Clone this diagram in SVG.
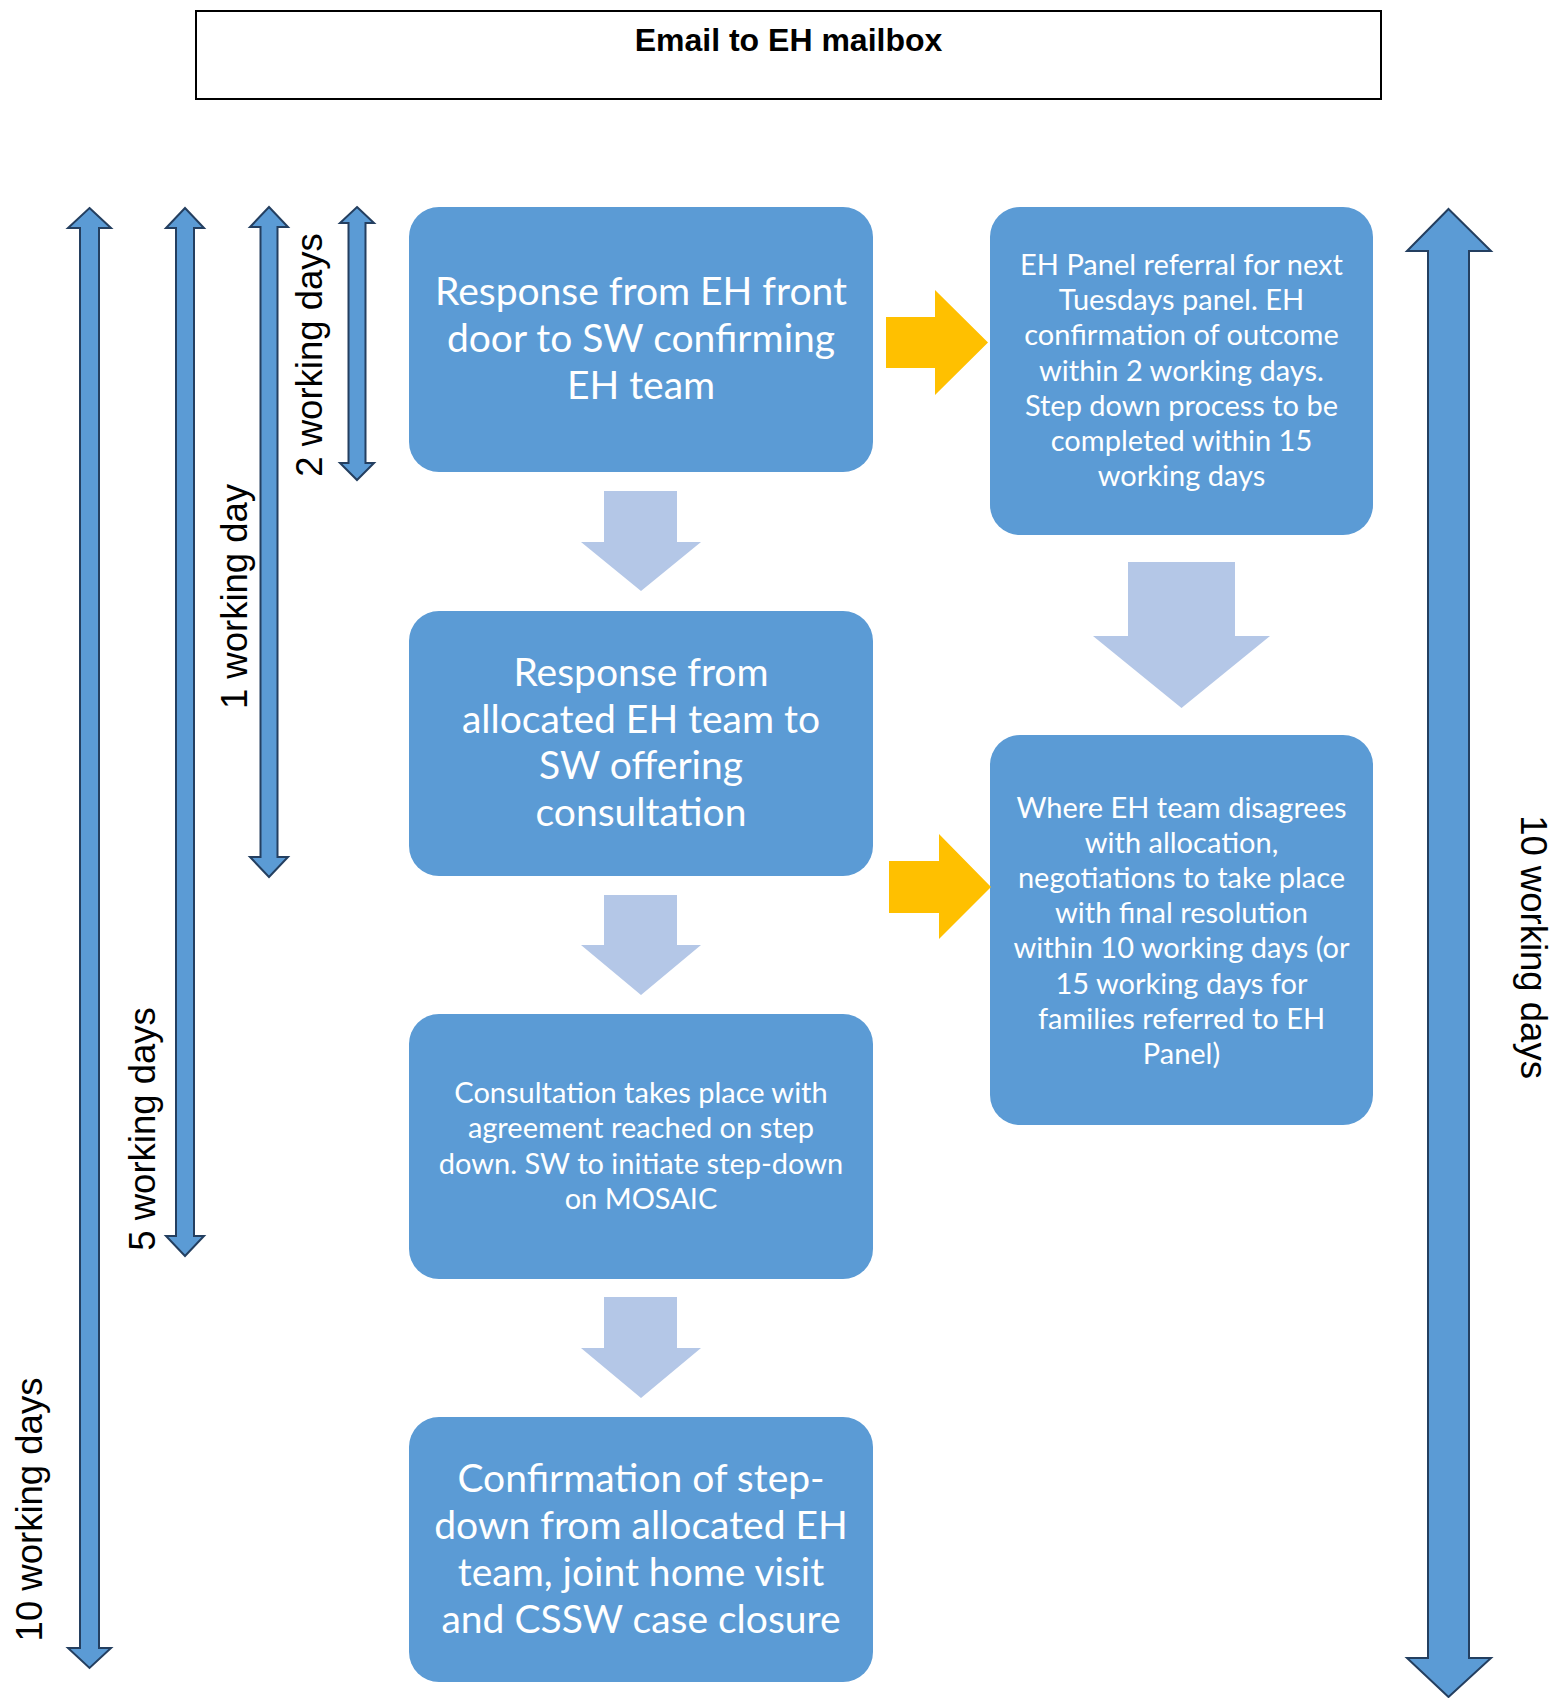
<svg xmlns="http://www.w3.org/2000/svg" width="1555" height="1698" viewBox="0 0 1555 1698">
<style>
.box{fill:#5B9BD5}
.big{font-family:Lato,"Open Sans",sans-serif;font-size:39px;fill:#fff;text-anchor:middle}
.sm{font-family:Lato,"Open Sans",sans-serif;font-size:29px;fill:#fff;text-anchor:middle}
.lab{font-family:"Liberation Sans",Arial,sans-serif;font-size:36.5px;fill:#000;text-anchor:middle}
.dbl{fill:#5B9BD5;stroke:#243F60;stroke-width:2;stroke-linejoin:miter}
.yel{fill:#FFC000}
.lt{fill:#B4C7E7}
</style>
<g id="title">
<rect x="196" y="11" width="1185" height="88" fill="#fff" stroke="#000" stroke-width="2"/>
<text x="788.5" y="51" font-family="'Liberation Sans',Arial,sans-serif" font-size="32" font-weight="bold" text-anchor="middle">Email to EH mailbox</text>
</g>
<g id="box1">
<rect class="box" x="409" y="207" width="464" height="265" rx="30"/>
<text class="big"><tspan x="641" y="305">Response from EH front</tspan><tspan x="641" y="352">door to SW confirming</tspan><tspan x="641" y="399">EH team</tspan></text>
</g>
<g id="box2">
<rect class="box" x="409" y="611" width="464" height="265" rx="30"/>
<text class="big"><tspan x="641" y="686">Response from</tspan><tspan x="641" y="733">allocated EH team to</tspan><tspan x="641" y="779">SW offering</tspan><tspan x="641" y="826">consultation</tspan></text>
</g>
<g id="box3">
<rect class="box" x="409" y="1014" width="464" height="265" rx="30"/>
<text class="sm"><tspan x="641" y="1103">Consultation takes place with</tspan><tspan x="641" y="1138">agreement reached on step</tspan><tspan x="641" y="1174">down. SW to initiate step-down</tspan><tspan x="641" y="1209">on MOSAIC</tspan></text>
</g>
<g id="box4">
<rect class="box" x="409" y="1417" width="464" height="265" rx="30"/>
<text class="big"><tspan x="641" y="1492">Confirmation of step-</tspan><tspan x="641" y="1539">down from allocated EH</tspan><tspan x="641" y="1586">team, joint home visit</tspan><tspan x="641" y="1633">and CSSW case closure</tspan></text>
</g>
<g id="boxA">
<rect class="box" x="990" y="207" width="383" height="328" rx="30"/>
<text class="sm"><tspan x="1181.5" y="275">EH Panel referral for next</tspan><tspan x="1181.5" y="310">Tuesdays panel. EH</tspan><tspan x="1181.5" y="345">confirmation of outcome</tspan><tspan x="1181.5" y="381">within 2 working days.</tspan><tspan x="1181.5" y="416">Step down process to be</tspan><tspan x="1181.5" y="451">completed within 15</tspan><tspan x="1181.5" y="486">working days</tspan></text>
</g>
<g id="boxB">
<rect class="box" x="990" y="735" width="383" height="390" rx="30"/>
<text class="sm"><tspan x="1181.5" y="818">Where EH team disagrees</tspan><tspan x="1181.5" y="853">with allocation,</tspan><tspan x="1181.5" y="888">negotiations to take place</tspan><tspan x="1181.5" y="923">with final resolution</tspan><tspan x="1181.5" y="958">within 10 working days (or</tspan><tspan x="1181.5" y="994">15 working days for</tspan><tspan x="1181.5" y="1029">families referred to EH</tspan><tspan x="1181.5" y="1064">Panel)</tspan></text>
</g>
<g id="connectors">
<polygon class="lt" points="604,491 677,491 677,542 701,542 641,591 581,542 604,542"/>
<polygon class="lt" points="604,895 677,895 677,945 701,945 641,995 581,945 604,945"/>
<polygon class="lt" points="604,1297 677,1297 677,1348 701,1348 641,1398 581,1348 604,1348"/>
<polygon class="lt" points="1128,562 1235,562 1235,636 1270,636 1181.5,708 1093,636 1128,636"/>
<polygon class="yel" points="886,317 935,317 935,290 988,342.5 935,395 935,368 886,368"/>
<polygon class="yel" points="889,861 939,861 939,834 991,887 939,939 939,913 889,913"/>
</g>
<g id="timescales">
<polygon class="dbl" points="89.5,208 111,228 99,228 99,1648 111,1648 89.5,1668 68,1648 80,1648 80,228 68,228"/>
<polygon class="dbl" points="185,208 204,228 194,228 194,1236 204,1236 185,1256 166,1236 176,1236 176,228 166,228"/>
<polygon class="dbl" points="269,207 288,227 277.5,227 277.5,857 288,857 269,877 250,857 260.5,857 260.5,227 250,227"/>
<polygon class="dbl" points="357,207 374,223 365.5,223 365.5,463 374,463 357,480 340,463 348.5,463 348.5,223 340,223"/>
<polygon class="dbl" points="1448.5,209 1491,251 1469,251 1469,1658 1491,1658 1448.5,1697 1407,1658 1428,1658 1428,251 1407,251"/>
<text class="lab" transform="translate(322,355) rotate(-90)">2 working days</text>
<text class="lab" transform="translate(247,596.5) rotate(-90)">1 working day</text>
<text class="lab" transform="translate(155,1129) rotate(-90)">5 working days</text>
<text class="lab" transform="translate(42,1509.5) rotate(-90)">10 working days</text>
<text class="lab" transform="translate(1521,947) rotate(90)">10 working days</text>
</g>
</svg>
